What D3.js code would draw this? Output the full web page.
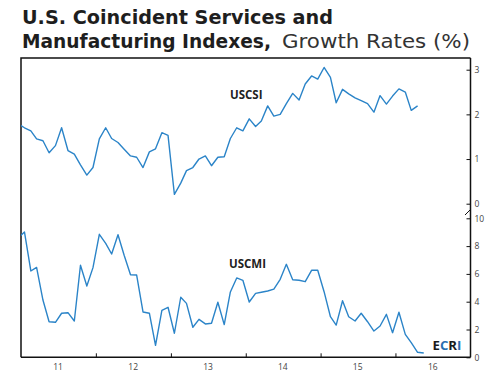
<!DOCTYPE html>
<html>
<head>
<meta charset="utf-8">
<script src="https://cdn.jsdelivr.net/npm/d3@7"></script>
<style>
  body { margin: 0; background: #fff; }
  svg { display: block; font-family: "Open Sans", sans-serif; }
</style>
</head>
<body>
<div id="chart"></div>
<script>
// monthly readings, first one (Dec 2010) sits just left of the frame
const startMonth = [2010, 11];

const uscsi = [1.79, 1.70, 1.63, 1.45, 1.41, 1.14, 1.30, 1.70, 1.19, 1.11, 0.87, 0.64, 0.81,
  1.45, 1.70, 1.46, 1.37, 1.22, 1.07, 1.04, 0.81, 1.16, 1.23, 1.59, 1.53,
  0.21, 0.46, 0.74, 0.81, 1.00, 1.07, 0.85, 1.04, 1.05, 1.46, 1.70, 1.63,
  1.90, 1.73, 1.85, 2.19, 1.96, 2.00, 2.24, 2.47, 2.32, 2.68, 2.86, 2.79,
  3.05, 2.83, 2.26, 2.56, 2.46, 2.37, 2.31, 2.24, 2.05, 2.42, 2.23, 2.41,
  2.57, 2.50, 2.09, 2.19];

const uscmi = [8.60, 9.01, 6.21, 6.47, 4.12, 2.56, 2.52, 3.17, 3.21, 2.61, 6.62, 5.13, 6.45,
  8.85, 8.20, 7.43, 8.82, 7.34, 5.94, 5.92, 3.26, 3.17, 0.86, 3.38, 3.60,
  1.73, 4.32, 3.88, 2.16, 2.73, 2.40, 2.45, 3.96, 2.35, 4.70, 5.71, 5.54,
  3.98, 4.60, 4.68, 4.77, 4.91, 5.61, 6.69, 5.58, 5.54, 5.44, 6.26, 6.26,
  4.72, 2.92, 2.32, 4.07, 2.92, 2.61, 3.17, 2.56, 1.89, 2.25, 3.09, 1.77,
  3.24, 1.65, 1.05, 0.36, 0.31];

const yearTicks = [2012, 2013, 2014, 2015, 2016];
const yearLabels = ["11", "12", "13", "14", "15", "16"];
const topTicks = [0, 1, 2, 3];
const bottomTicks = [0, 2, 4, 6, 8, 10];

const width = 495, height = 375;
const frame = { left: 21, right: 470.5, top: 58, bottom: 357.3 };
const blue = "#2b84c8";

const svg = d3.select("#chart").append("svg")
  .attr("width", width)
  .attr("height", height);

const dateOf = i => new Date(startMonth[0], startMonth[1] + i, 18);

const x = d3.scaleTime()
  .domain([new Date(2011, 0, 1), new Date(2017, 0, 1)])
  .range([frame.left, frame.right]);

const yTop = d3.scaleLinear().domain([0, 3]).range([203.7, 69.7]);
const yBottom = d3.scaleLinear().domain([0, 10]).range([frame.bottom, 218.3]);

// title: wide face, stretched to the widths of the original
const title = svg.append("g")
  .attr("fill", "#1e1e1e")
  .attr("font-size", 20)
  .attr("font-family", "DejaVu Sans, sans-serif");
title.append("text")
  .attr("x", 22).attr("y", 24)
  .attr("font-weight", 700)
  .attr("textLength", 311).attr("lengthAdjust", "spacingAndGlyphs")
  .text("U.S. Coincident Services and");
title.append("text")
  .attr("x", 22).attr("y", 48)
  .attr("font-weight", 700)
  .attr("textLength", 249).attr("lengthAdjust", "spacingAndGlyphs")
  .text("Manufacturing Indexes,");
title.append("text")
  .attr("x", 282).attr("y", 48)
  .attr("font-weight", 400).attr("fill", "#333")
  .attr("textLength", 188).attr("lengthAdjust", "spacingAndGlyphs")
  .text("Growth Rates (%)");

// frame
svg.append("path")
  .attr("d", `M${frame.left},${frame.bottom}V${frame.top}H${frame.right}`)
  .attr("fill", "none")
  .attr("stroke", "#111")
  .attr("stroke-width", 1.5);

// bottom axis, ticks pointing in
const xAxis = svg.append("g")
  .attr("transform", `translate(0,${frame.bottom})`)
  .call(d3.axisBottom(x)
    .tickValues(yearTicks.map(y => new Date(y, 0, 1)))
    .tickSizeInner(-4).tickSizeOuter(0)
    .tickFormat(""));
xAxis.select(".domain").attr("stroke", "#111").attr("stroke-width", 1.5)
  .attr("d", `M${frame.left},0H${frame.right}`);
xAxis.selectAll(".tick line").attr("stroke", "#111");

svg.append("g")
  .selectAll("text")
  .data(yearLabels)
  .join("text")
  .attr("x", (d, i) => x(new Date(2011 + i, 6, 1)))
  .attr("y", 370)
  .attr("text-anchor", "middle")
  .attr("font-size", 8.5)
  .attr("fill", "#444")
  .text(d => d);

// right axes
function rightAxis(scale, ticks) {
  const g = svg.append("g")
    .attr("transform", `translate(${frame.right},0)`)
    .call(d3.axisRight(scale)
      .tickValues(ticks)
      .tickFormat(d3.format("d"))
      .tickSizeInner(-4).tickSizeOuter(0).tickPadding(4));
  g.select(".domain").remove();
  g.selectAll(".tick line").attr("stroke", "#111");
  g.selectAll(".tick text").attr("font-size", 8.5).attr("fill", "#444")
    .attr("font-family", "Open Sans, sans-serif");
  return g;
}
rightAxis(yTop, topTicks);
rightAxis(yBottom, bottomTicks);

svg.append("line")
  .attr("x1", frame.right).attr("x2", frame.right)
  .attr("y1", frame.top).attr("y2", frame.bottom)
  .attr("stroke", "#111").attr("stroke-width", 1.5);

// axis break mark
svg.append("line")
  .attr("x1", frame.right - 5.5).attr("y1", 215)
  .attr("x2", frame.right + 0.5).attr("y2", 209)
  .attr("stroke", "#111").attr("stroke-width", 1);

// series
svg.append("clipPath").attr("id", "plot-clip")
  .append("rect")
  .attr("x", frame.left).attr("y", frame.top)
  .attr("width", frame.right - frame.left)
  .attr("height", frame.bottom - frame.top);

function drawLine(values, y) {
  svg.append("path")
    .datum(values)
    .attr("clip-path", "url(#plot-clip)")
    .attr("fill", "none")
    .attr("stroke", blue)
    .attr("stroke-width", 1.4)
    .attr("stroke-linejoin", "round")
    .attr("d", d3.line()
      .x((d, i) => x(dateOf(i)))
      .y(d => y(d)));
}
drawLine(uscsi, yTop);
drawLine(uscmi, yBottom);

// series labels
svg.append("text")
  .attr("x", 230).attr("y", 99)
  .attr("font-size", 11.5).attr("font-weight", 700).attr("fill", "#222")
  .text("USCSI");
svg.append("text")
  .attr("x", 229).attr("y", 268)
  .attr("font-size", 11.5).attr("font-weight", 700).attr("fill", "#222")
  .text("USCMI");

const ecri = svg.append("text")
  .attr("x", 432.5).attr("y", 350)
  .attr("font-size", 12.5).attr("font-weight", 700)
  .attr("textLength", 29).attr("lengthAdjust", "spacingAndGlyphs");
[["E", "#1a1a1a"], ["C", "#2a6fb0"], ["R", "#1a1a1a"], ["I", "#2a6fb0"]]
  .forEach(([ch, c]) => ecri.append("tspan").attr("fill", c).text(ch));
</script>
</body>
</html>
